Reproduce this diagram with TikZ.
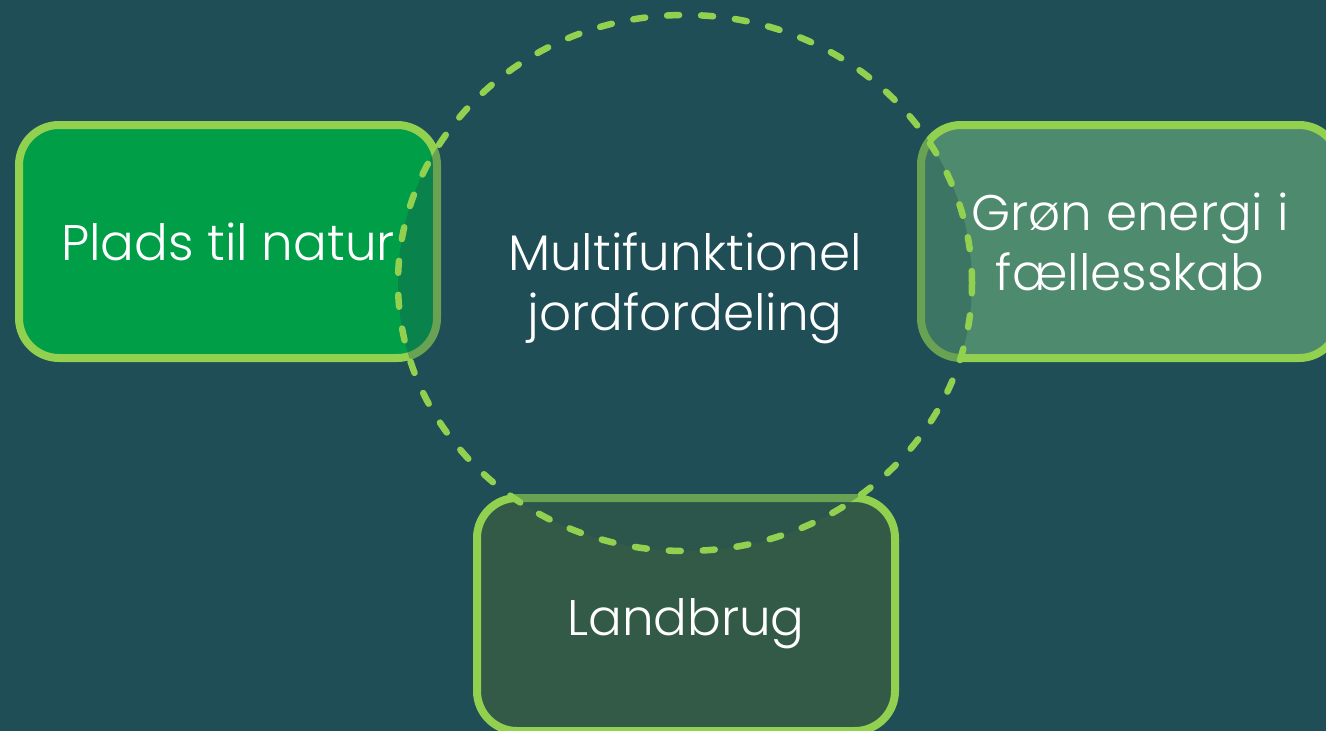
\documentclass[tikz,border=0pt]{standalone}
\usepackage{fontspec}
\setmainfont{Poppins}[UprightFont=* Light]
\usetikzlibrary{shapes.geometric}
\definecolor{bgc}{HTML}{1F4E57}
\definecolor{lime}{HTML}{92D050}
\definecolor{natur}{HTML}{009E47}
\definecolor{energi}{HTML}{4E8A6E}
\definecolor{landbrug}{HTML}{335A47}
\tikzset{
  box/.style={draw=lime, line width=8pt, rounded corners=40pt, minimum width=418pt,
    minimum height=233pt, text=white, align=center, font=\fontsize{50}{60}\selectfont, inner sep=0pt},
  ring/.style={draw=lime, line width=6.5pt, line cap=round, dash pattern=on 12pt off 22pt,
    fill=bgc, fill opacity=0.35, ellipse, minimum width=574pt, minimum height=536pt, inner sep=0pt},
  label/.style={text=white, align=center, font=\fontsize{50}{60}\selectfont}
}
\begin{document}
\begin{tikzpicture}[x=1pt,y=-1pt]
\fill[bgc] (0,0) rectangle (1326,731);
\useasboundingbox (0,0) rectangle (1326,731);
\node[box, fill=natur] (natur) at (228,241.5) {Plads til natur};
\node[box, fill=energi] (energi) at (1130,241.5) {Grøn energi i\\fællesskab};
\node[box, fill=landbrug, text depth=0pt] (landbrug) at (686,614.5) {\raisebox{-4pt}{Landbrug}};
\node[ring] (ring) at (685,283) {};
\node[label] (center) at (685,288) {Multifunktionel\\jordfordeling};
\end{tikzpicture}
\end{document}
